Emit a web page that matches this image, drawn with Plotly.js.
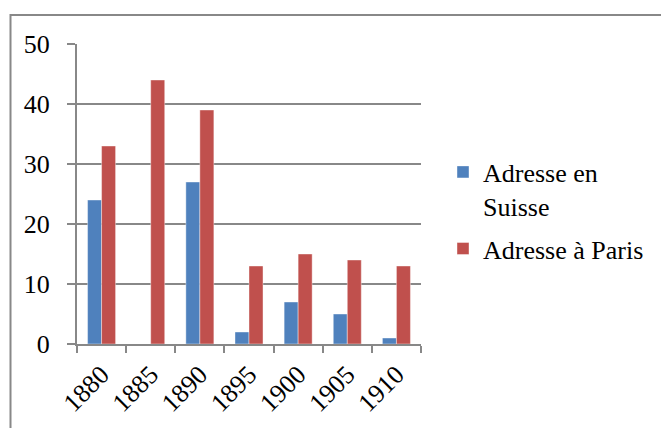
<!DOCTYPE html>
<html>
<head>
<meta charset="utf-8">
<script src="https://cdn.plot.ly/plotly-3.0.1.min.js"></script>
<style>html,body{margin:0;padding:0;background:#fff;}#chart{width:661px;height:428px;}</style>
</head>
<body>
<div id="chart"></div>
<script>
const years = ['1880', '1885', '1890', '1895', '1900', '1905', '1910'];
const suisse = [24, 0, 27, 2, 7, 5, 1];
const paris = [33, 44, 39, 13, 15, 14, 13];
const yTicks = [0, 10, 20, 30, 40, 50];

const font = {family: 'Liberation Serif, Times New Roman, serif', size: 26, color: '#000'};
const grey = '#888888';
const blue = '#4F81BD', red = '#C0504D';

const traces = [
  {type: 'bar', name: 'Adresse en<br>Suisse', x: years, y: suisse, legendgroup: 'a',
   marker: {color: blue, line: {color: 'rgba(255,255,255,0.4)', width: 1}}},
  {type: 'bar', name: 'Adresse à Paris', x: years, y: paris, legendgroup: 'b',
   marker: {color: red, line: {color: 'rgba(255,255,255,0.4)', width: 1}}}
];

const L = 77, R = 421, T = 44, B = 344, W = 661, H = 428;
const layout = {
  width: W, height: H,
  margin: {l: L, r: W - R, t: T, b: H - B, pad: 0},
  paper_bgcolor: '#fff', plot_bgcolor: '#fff',
  font: font,
  barmode: 'group', bargap: 0.43, bargroupgap: 0,
  showlegend: true,
  legend: {x: (443 - L) / (R - L), y: 0.445, xanchor: 'left', yanchor: 'middle',
           valign: 'top', traceorder: 'grouped',
           font: font, bgcolor: 'rgba(0,0,0,0)', tracegroupgap: 6},
  xaxis: {type: 'category', tickangle: -45, showline: true, linecolor: grey, linewidth: 2,
          ticks: 'outside', tickson: 'boundaries', ticklen: 7, tickcolor: grey, tickwidth: 2,
          showgrid: false, tickfont: font, ticklabelstandoff: 3, fixedrange: true},
  yaxis: {range: [0, 50], tickvals: yTicks, showline: true, linecolor: grey, linewidth: 2,
          ticks: 'outside', ticklen: 8, tickcolor: grey, tickwidth: 2,
          showgrid: true, gridcolor: grey, gridwidth: 2, zeroline: false,
          tickfont: font, ticklabelstandoff: 12, fixedrange: true},
  shapes: [{type: 'rect', xref: 'paper', yref: 'paper', layer: 'below',
            x0: (10.5 - L) / (R - L), x1: 3, y0: -2, y1: 1 + (T - 15) / (B - T),
            line: {color: grey, width: 2}, fillcolor: 'rgba(0,0,0,0)'}]
};

Plotly.newPlot('chart', traces, layout, {displayModeBar: false, staticPlot: true});
</script>
</body>
</html>
